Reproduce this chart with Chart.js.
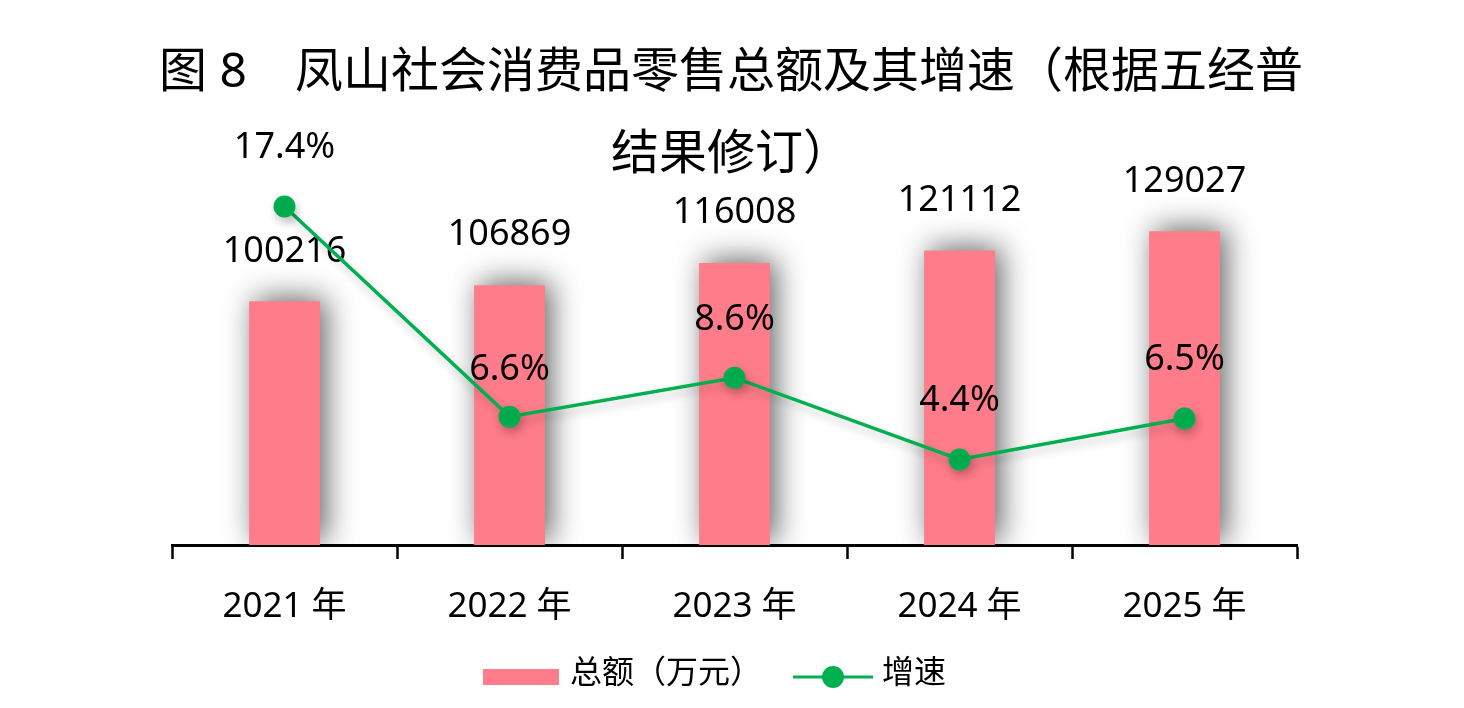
<!DOCTYPE html>
<html>
<head>
<meta charset="utf-8">
<script src="https://cdn.jsdelivr.net/npm/chart.js@4.4.1/dist/chart.umd.min.js"></script>
<style>
  html, body { margin: 0; padding: 0; background: #ffffff; }
  #wrap { width: 1464px; height: 708px; }
</style>
</head>
<body>
<div id="wrap"><canvas id="c" width="1464" height="708"></canvas></div>
<script>
// ---- data ----
const titleLines = ['图 8　凤山社会消费品零售总额及其增速（根据五经普', '结果修订）'];
const categories = ['2021 年', '2022 年', '2023 年', '2024 年', '2025 年'];
const totalValues = [100216, 106869, 116008, 121112, 129027];
const growthValues = [17.4, 6.6, 8.6, 4.4, 6.5];
const seriesNames = ['总额（万元）', '增速'];

// ---- styles ----
const FONT = "'Noto Sans', 'Noto Sans CJK SC', sans-serif";
const BAR_COLOR = '#FF7C8A';
const LINE_COLOR = '#00B050';
const lineLabelOffsets = [59, 47, 58, 59, 59];
const barLabelOffset = 50;

const decorPlugin = {
  id: 'decor',
  beforeDatasetDraw(chart, args) {
    const ctx = chart.ctx;
    ctx.save();
    if (args.index === 0) {
      ctx.shadowColor = 'rgba(0,0,0,0.62)';
      ctx.shadowBlur = 30;
      ctx.shadowOffsetX = 6;
      ctx.shadowOffsetY = -3;
    } else {
      ctx.shadowColor = 'rgba(0,0,0,0.22)';
      ctx.shadowBlur = 10;
      ctx.shadowOffsetX = 2;
      ctx.shadowOffsetY = 5;
    }
  },
  afterDatasetDraw(chart, args) {
    const ctx = chart.ctx;
    ctx.restore();
    if (args.index === 0) {
      ctx.save();
      ctx.font = '36px ' + FONT;
      ctx.fillStyle = '#000';
      ctx.textAlign = 'center';
      ctx.textBaseline = 'middle';
      chart.getDatasetMeta(0).data.forEach((el, i) => {
        ctx.fillText(String(totalValues[i]), el.x, el.y - barLabelOffset);
      });
      ctx.restore();
    }
  },
  afterDatasetsDraw(chart) {
    const ctx = chart.ctx;
    ctx.save();
    ctx.font = '36px ' + FONT;
    ctx.fillStyle = '#000';
    ctx.textAlign = 'center';
    ctx.textBaseline = 'middle';
    chart.getDatasetMeta(1).data.forEach((el, i) => {
      ctx.fillText(growthValues[i].toFixed(1) + '%', el.x, el.y - lineLabelOffsets[i]);
    });
    ctx.restore();
  },
  afterDraw(chart) {
    const ctx = chart.ctx;
    ctx.save();
    // title
    ctx.fillStyle = '#000';
    ctx.textAlign = 'center';
    ctx.textBaseline = 'middle';
    ctx.font = '48px ' + FONT;
    const cx = 731;
    ctx.fillText(titleLines[0], cx, 73);
    ctx.fillText(titleLines[1], cx, 155);
    // legend
    ctx.fillStyle = BAR_COLOR;
    ctx.fillRect(483, 669, 76, 16);
    ctx.fillStyle = '#000';
    ctx.textAlign = 'left';
    ctx.font = '32px ' + FONT;
    ctx.fillText(seriesNames[0], 570, 674);
    ctx.strokeStyle = LINE_COLOR;
    ctx.lineWidth = 3;
    ctx.beginPath();
    ctx.moveTo(793, 677);
    ctx.lineTo(873, 677);
    ctx.stroke();
    ctx.fillStyle = LINE_COLOR;
    ctx.beginPath();
    ctx.arc(833, 677, 11, 0, Math.PI * 2);
    ctx.fill();
    ctx.fillStyle = '#000';
    ctx.fillText(seriesNames[1], 882, 674);
    ctx.restore();
  }
};

new Chart(document.getElementById('c'), {
  type: 'bar',
  data: {
    labels: categories,
    datasets: [
      {
        type: 'bar',
        label: seriesNames[0],
        data: totalValues,
        backgroundColor: BAR_COLOR,
        borderWidth: 0,
        yAxisID: 'y',
        order: 1,
        categoryPercentage: 1,
        barPercentage: 0.315
      },
      {
        type: 'line',
        label: seriesNames[1],
        data: growthValues,
        borderColor: LINE_COLOR,
        backgroundColor: LINE_COLOR,
        borderWidth: 3.5,
        pointRadius: 10,
        pointBorderWidth: 2,
        pointBorderColor: LINE_COLOR,
        pointBackgroundColor: LINE_COLOR,
        tension: 0,
        yAxisID: 'y1',
        order: 0,
        clip: false
      }
    ]
  },
  options: {
    responsive: false,
    animation: false,
    devicePixelRatio: 1,
    layout: { padding: { left: 172, right: 167, top: 156, bottom: 53 } },
    plugins: {
      legend: { display: false },
      title: { display: false },
      tooltip: { enabled: false }
    },
    scales: {
      x: {
        grid: {
          display: true,
          offset: true,
          drawOnChartArea: false,
          drawTicks: true,
          tickLength: 14,
          tickWidth: 2.5,
          color: '#000'
        },
        border: { display: true, color: '#000', width: 3 },
        ticks: {
          color: '#000',
          font: { family: FONT, size: 35 },
          padding: 27
        }
      },
      y: { display: false, min: 0, max: 160000 },
      y1: { display: false, position: 'right', min: 0, max: 20 }
    }
  },
  plugins: [decorPlugin]
});
</script>
</body>
</html>
